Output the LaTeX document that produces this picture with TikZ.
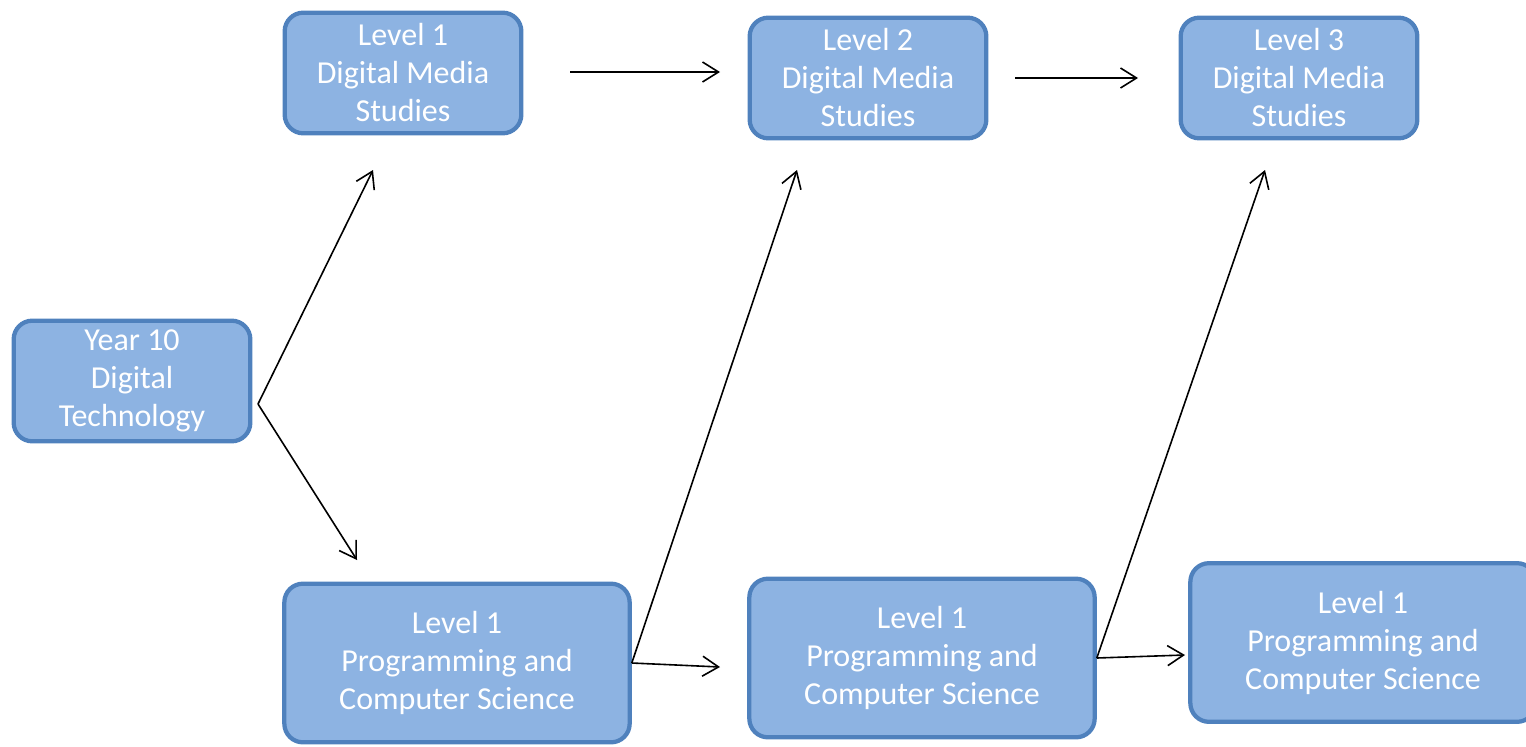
\documentclass[tikz,border=0pt]{standalone}
\usepackage{fontspec}
\setmainfont{Carlito}
\usetikzlibrary{arrows.meta}
\definecolor{boxfill}{HTML}{8DB3E2}
\definecolor{boxline}{HTML}{4F81BD}
\begin{document}
\begin{tikzpicture}[x=0.75pt,y=-0.75pt,
  box/.style={draw=boxline, fill=boxfill, line width=3.2pt, rounded corners=14pt,
    align=center, text=white, font=\fontsize{24}{28.5}\selectfont, inner sep=0pt},
  smallbox/.style={box, minimum width=177.5pt, minimum height=90.5pt},
  bigbox/.style={box, minimum width=259pt, minimum height=119pt},
  conn/.style={line width=1.2pt, -{Straight Barb[length=12pt,width=15pt]}}]
\useasboundingbox (0,0) rectangle (1526,746);
\node[smallbox] (y10) at (132,381) {Year 10\\Digital\\Technology};
\node[smallbox] (dm1) at (403,73) {Level 1\\Digital Media\\Studies};
\node[smallbox] (dm2) at (868,78) {Level 2\\Digital Media\\Studies};
\node[smallbox] (dm3) at (1299,78) {Level 3\\Digital Media\\Studies};
\node[bigbox] (pc1) at (457,663) {Level 1\\Programming and\\Computer Science};
\node[bigbox] (pc2) at (922,658) {Level 1\\Programming and\\Computer Science};
\node[bigbox] (pc3) at (1363,642.5) {Level 1\\Programming and\\Computer Science};
\coordinate (split) at (258,404);
\coordinate (t1) at (373,170);
\coordinate (t2) at (357,560);
\coordinate (s1) at (570,72);
\coordinate (t3) at (720,72);
\coordinate (s2) at (1015,78);
\coordinate (t4) at (1138,78);
\coordinate (t5) at (797,170);
\coordinate (t6) at (720,667);
\coordinate (t7) at (1265,170);
\coordinate (t8) at (1185,655);
\draw[conn] (split) -- (t1);
\draw[conn] (split) -- (t2);
\draw[conn] (s1) -- (t3);
\draw[conn] (s2) -- (t4);
\draw[conn] (pc1.east) -- (t5);
\draw[conn] (pc1.east) -- (t6);
\draw[conn] (pc2.east) -- (t7);
\draw[conn] (pc2.east) -- (t8);
\end{tikzpicture}
\end{document}
